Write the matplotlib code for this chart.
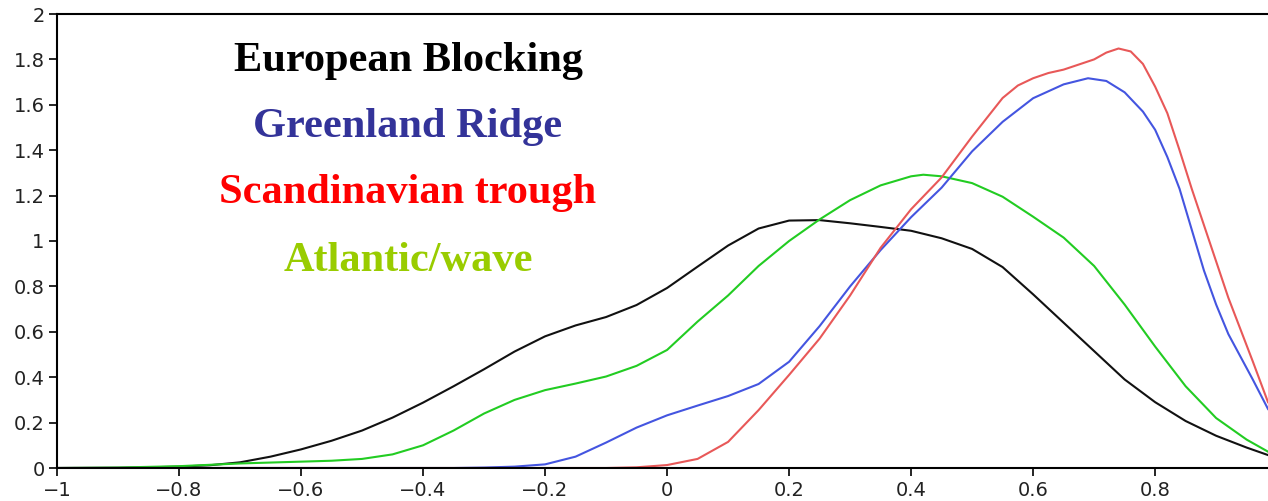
import matplotlib
matplotlib.use('Agg')
import matplotlib.pyplot as plt

# ── data ────────────────────────────────────────────────

x_black = [-1.0, -0.9, -0.85, -0.8, -0.75, -0.7, -0.65, -0.6, -0.55, -0.5, -0.45, -0.4,
           -0.35, -0.3, -0.25, -0.2, -0.15, -0.1, -0.05, 0.0, 0.05, 0.1, 0.15, 0.2, 0.25,
           0.3, 0.35, 0.4, 0.45, 0.5, 0.55, 0.6, 0.65, 0.7, 0.75, 0.8, 0.85, 0.9, 0.95, 0.985]
y_black = [0.0, 0.001, 0.003, 0.006, 0.012, 0.025, 0.05, 0.082, 0.12, 0.165, 0.222, 0.288,
           0.36, 0.435, 0.513, 0.58, 0.628, 0.665, 0.718, 0.793, 0.887, 0.98, 1.055, 1.09, 1.092,
           1.078, 1.062, 1.045, 1.012, 0.965, 0.885, 0.765, 0.64, 0.515, 0.39, 0.29, 0.207, 0.142, 0.09, 0.057]

x_green = [-1.0, -0.9, -0.8, -0.7, -0.6, -0.55, -0.5, -0.45, -0.4, -0.35, -0.3, -0.25, -0.2,
           -0.15, -0.1, -0.05, 0.0, 0.05, 0.1, 0.15, 0.2, 0.25, 0.3, 0.35, 0.4, 0.42, 0.45,
           0.5, 0.55, 0.6, 0.65, 0.7, 0.75, 0.8, 0.85, 0.9, 0.95, 0.985]
y_green = [0.0, 0.002, 0.008, 0.02, 0.028, 0.032, 0.04, 0.06, 0.10, 0.165, 0.24, 0.3, 0.343,
           0.372, 0.403, 0.45, 0.52, 0.645, 0.76, 0.89, 1.0, 1.095, 1.18, 1.245, 1.285, 1.292, 1.285,
           1.255, 1.195, 1.107, 1.015, 0.89, 0.72, 0.535, 0.36, 0.22, 0.125, 0.072]

x_blue = [-1.0, -0.35, -0.3, -0.25, -0.2, -0.15, -0.1, -0.05, 0.0, 0.05, 0.1, 0.15, 0.2,
          0.25, 0.3, 0.35, 0.4, 0.45, 0.5, 0.55, 0.6, 0.65, 0.69, 0.72, 0.75, 0.78, 0.8,
          0.82, 0.84, 0.86, 0.88, 0.9, 0.92, 0.94, 0.96, 0.985]
y_blue = [0.0, 0.0, 0.002, 0.006, 0.016, 0.05, 0.112, 0.178, 0.232, 0.275, 0.317, 0.37, 0.468,
          0.625, 0.8, 0.96, 1.105, 1.235, 1.395, 1.525, 1.629, 1.69, 1.717, 1.705, 1.655, 1.57, 1.49,
          1.37, 1.23, 1.05, 0.87, 0.72, 0.59, 0.49, 0.39, 0.26]

x_red = [-1.0, -0.1, -0.05, 0.0, 0.05, 0.1, 0.15, 0.2, 0.25, 0.3, 0.35, 0.4, 0.45, 0.5,
         0.55, 0.575, 0.6, 0.625, 0.65, 0.7, 0.72, 0.74, 0.76, 0.78, 0.8, 0.82, 0.84, 0.86,
         0.88, 0.9, 0.92, 0.94, 0.96, 0.985]
y_red = [0.0, 0.0, 0.003, 0.013, 0.04, 0.115, 0.255, 0.41, 0.57, 0.76, 0.97, 1.14, 1.28, 1.46,
         1.63, 1.685, 1.717, 1.74, 1.755, 1.80, 1.83, 1.848, 1.835, 1.78, 1.68, 1.563, 1.40, 1.23,
         1.07, 0.91, 0.75, 0.61, 0.47, 0.29]

labels = ['European Blocking', 'Greenland Ridge', 'Scandinavian trough', 'Atlantic/wave']
label_colors = ['#000000', '#333399', '#ff0000', '#99cc00']

x_ticks = [-1, -0.8, -0.6, -0.4, -0.2, 0, 0.2, 0.4, 0.6, 0.8]
y_ticks = [0, 0.2, 0.4, 0.6, 0.8, 1, 1.2, 1.4, 1.6, 1.8, 2]

# ── figure ──────────────────────────────────────────────

fig = plt.figure(figsize=(12.68, 5.01), dpi=100)
ax = fig.add_axes([57 / 1268, 33 / 501, 1 - 57 / 1268, 454 / 501])

ax.plot(x_black, y_black, color='#111111', lw=1.5)
ax.plot(x_green, y_green, color='#22cc22', lw=1.5)
ax.plot(x_blue, y_blue, color='#4455e0', lw=1.5)
ax.plot(x_red, y_red, color='#e85858', lw=1.5)

ax.set_xlim(-1, 0.985)
ax.set_ylim(0, 2)
ax.set_xticks(x_ticks)
ax.set_yticks(y_ticks)
ax.set_xticklabels([f'{v:g}'.replace('-', '\u2212') for v in x_ticks])
ax.set_yticklabels([f'{v:g}' for v in y_ticks])
ax.tick_params(direction='out', length=6, width=1.2, labelsize=14, pad=3,
               labelcolor='#222222')
ax.spines['right'].set_visible(False)
for s in ['left', 'top', 'bottom']:
    ax.spines[s].set_linewidth(1.5)

# legend-like labels in the upper left
y_pos = [61, 127, 193, 261]
for txt, col, yp in zip(labels, label_colors, y_pos):
    fig.text(408 / 1268, 1 - yp / 501, txt, color=col, ha='center', va='center',
             fontsize=30.5, fontweight='bold', fontfamily='Liberation Serif')

fig.savefig('out.png', dpi=100)
